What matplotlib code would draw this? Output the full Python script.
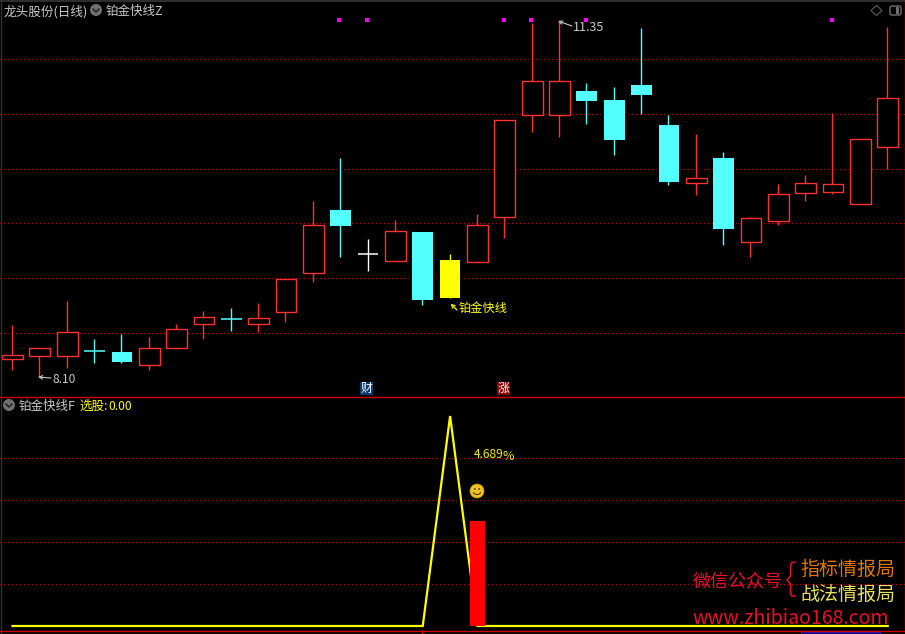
# -*- coding: utf-8 -*-
import matplotlib
matplotlib.use('Agg')
import matplotlib.pyplot as plt
from matplotlib.patches import Circle, Rectangle, Polygon, FancyBboxPatch, Arc

plt.rcParams['font.family'] = ['Noto Sans CJK SC', 'DejaVu Sans']

#################### DATOS ####################
# K线 (日线), values
opens = [8.26, 8.29, 8.29, 8.34, 8.33, 8.21, 8.36, 8.58, 8.63, 8.58, 8.69,
         9.05, 9.62, 9.22, 9.16, 9.42, 8.82, 9.15, 9.56, 10.49, 10.49, 10.71,
         10.63, 10.76, 10.40, 9.87, 10.10, 9.33, 9.52, 9.78, 9.79, 9.68, 10.20]
highs = [8.57, 8.36, 8.79, 8.45, 8.49, 8.46, 8.58, 8.70, 8.73, 8.77, 8.99,
         9.70, 10.10, 9.36, 9.53, 9.42, 9.22, 9.59, 10.44, 11.33, 11.35, 10.78,
         10.74, 11.28, 10.49, 10.32, 10.15, 9.56, 9.86, 9.94, 10.51, 10.27, 11.29]
lows = [8.16, 8.10, 8.18, 8.23, 8.23, 8.16, 8.36, 8.45, 8.52, 8.51, 8.60,
        8.97, 9.19, 9.07, 9.16, 8.76, 8.82, 9.15, 9.37, 10.33, 10.29, 10.41,
        10.12, 10.50, 9.85, 9.76, 9.30, 9.19, 9.49, 9.70, 9.77, 9.68, 10.00]
closes = [8.30, 8.36, 8.51, 8.34, 8.24, 8.36, 8.54, 8.65, 8.63, 8.64, 8.99,
          9.49, 9.48, 9.22, 9.43, 8.80, 9.17, 9.49, 10.44, 10.80, 10.80, 10.62,
          10.26, 10.67, 9.88, 9.91, 9.45, 9.55, 9.77, 9.87, 9.86, 10.27, 10.64]
candle_kind = ['r', 'r', 'r', 'c', 'c', 'r', 'r', 'r', 'c', 'r', 'r',
               'r', 'c', 'w', 'r', 'c', 'y', 'r', 'r', 'r', 'r', 'c',
               'c', 'c', 'c', 'r', 'c', 'r', 'r', 'r', 'r', 'r', 'r']
signal_idx = [12, 13, 18, 19, 21, 30]
signal_price = 11.36
price_grid = [8.5, 9.0, 9.5, 10.0, 10.5, 11.0]

# 铂金快线F
line_vals = [0] * 15 + [0, 5.0, 0] + [0] * 15
bar_idx = 17
bar_val = 2.5
lower_grid = [1, 2, 3, 4]

COLORS = {'r': '#ff3232', 'c': '#54ffff', 'w': '#ffffff', 'y': '#ffff00'}
GRID = '#a80000'
LINE = '#d00000'
GREY = '#c8c8c8'
YEL = '#ffff00'

#################### FIGURA ####################
W, H = 905, 634
SPLIT = 396.5
fig = plt.figure(figsize=(W / 100, H / 100), dpi=100, facecolor='black')
ax = fig.add_axes([0, 1 - SPLIT / H, 1, SPLIT / H])
ax2 = fig.add_axes([0, 0, 1, 1 - SPLIT / H])

STEP = 27.35
xlim = (-12.5 / STEP, (W - 12.5) / STEP)
for a in (ax, ax2):
    a.set_facecolor('black')
    a.set_xlim(xlim)
    a.set_xticks([])
    a.set_yticks([])
    for s in a.spines.values():
        s.set_visible(False)
ax.set_ylim(7.921, 11.538)
ax2.set_ylim(-8 / 42, (626 - SPLIT) / 42)

GRID_KW = dict(color=GRID, lw=0.72, linestyle=(0, (1, 3)), zorder=1, antialiased=False)
for g in price_grid:
    ax.axhline(g, **GRID_KW)
for g in lower_grid:
    ax2.axhline(g, **GRID_KW)

# velas
BODY = 0.76
for i in range(len(opens)):
    col = COLORS[candle_kind[i]]
    top = max(opens[i], closes[i])
    bot = min(opens[i], closes[i])
    ax.vlines(i - 0.02, lows[i], highs[i], color=col, lw=1.0, zorder=2)
    if top == bot:
        ax.hlines(top, i - BODY / 2, i + BODY / 2, color=col, lw=1.1, zorder=3)
    elif candle_kind[i] == 'r':
        ax.bar(i, top - bot, BODY, bot, facecolor='black', edgecolor=col, lw=1.0, zorder=3)
    else:
        ax.bar(i, top - bot, BODY, bot, facecolor=col, edgecolor=col, lw=0, zorder=3)
ax.scatter([i - 0.045 for i in signal_idx], [signal_price] * len(signal_idx),
           marker='s', s=6, color='#ff00ff', lw=0, zorder=4)

# panel inferior
ax2.plot(range(len(line_vals)), line_vals, color=YEL, lw=1.6, zorder=3,
         solid_joinstyle='miter')
ax2.bar(bar_idx, bar_val, 15 / STEP, 0, color='#ff0000', lw=0, zorder=4)

#################### TEXTOS Y ADORNOS ####################
ov = fig.add_axes([0, 0, 1, 1], facecolor='none')
ov.set_xlim(0, W)
ov.set_ylim(H, 0)
ov.axis('off')


def tx(x, y, s, px=12, color=GREY, **kw):
    # la fuente CJK queda alta con va=center, se baja un poco
    ov.text(x, y + px * 0.12, s, fontsize=px * 0.72, color=color, va='center', ha='left', **kw)


def face_icon(x, y):
    ov.add_patch(Circle((x, y), 6, facecolor='#707070', edgecolor='none'))
    ov.plot([x - 3, x, x + 3], [y - 1, y + 2, y - 1], color='#1a1a1a', lw=1)


# bordes
ov.plot([0.5, 0.5], [0, H], color='#303030', lw=1)
ov.plot([0, W], [0.5, 0.5], color='#303030', lw=1.4)
ov.plot([904.5, 904.5], [0, 631], color=LINE, lw=1)
ov.plot([0, W], [396.5, 396.5], color=LINE, lw=1)
ov.plot([0, W], [630.5, 630.5], color=LINE, lw=1)
ov.plot([421.5, 421.5], [630, 634], color=LINE, lw=1)
ov.add_patch(Rectangle((801, 631.5), 79, 3, facecolor='#000090', edgecolor='#2020c0', lw=0.6))

tx(4, 10, '龙头股份(日线)', 12.6)
face_icon(96, 10)
tx(106, 10, '铂金快线Z', 12.5)
face_icon(9, 405)
tx(19, 405, '铂金快线F', 12.5)
tx(79, 405, '选股:', 12.5, YEL)
tx(108, 405, '0.00', 12, YEL)

# iconos de la esquina
ov.add_patch(Polygon([(876.5, 5.5), (882, 10.5), (876.5, 15.5), (871, 10.5)], closed=True,
                     facecolor='none', edgecolor='#606060', lw=0.8))
ov.add_patch(FancyBboxPatch((890, 6), 11, 9, boxstyle='round,pad=0,rounding_size=2',
                            facecolor='none', edgecolor='#707070', lw=1))
ov.add_patch(Rectangle((896, 7), 3, 7, facecolor='#707070', edgecolor='none'))

# anotaciones
ov.annotate('', xy=(38, 377), xytext=(51, 378),
            arrowprops=dict(arrowstyle='->', color=GREY, lw=0.8, mutation_scale=6, shrinkA=0, shrinkB=0))
tx(52.5, 378, '8.10', 12)
ov.annotate('', xy=(558, 21), xytext=(572, 26),
            arrowprops=dict(arrowstyle='->', color=GREY, lw=0.8, mutation_scale=6, shrinkA=0, shrinkB=0))
tx(573, 26, '11.35', 12.6)
ov.annotate('', xy=(450.5, 303.5), xytext=(457, 310),
            arrowprops=dict(arrowstyle='->', color='#e0e000', lw=1, mutation_scale=6, shrinkA=0, shrinkB=0))
tx(458.5, 306.5, '铂金快线', 12.2, YEL)

ov.add_patch(Rectangle((360, 382), 13, 13, facecolor='#0a3a6e', edgecolor='none'))
ov.text(366.5, 388.5, '财', fontsize=8.6, color='white', ha='center', va='center')
ov.add_patch(Rectangle((497, 382), 13, 13, facecolor='#8a0000', edgecolor='none'))
ov.text(503.5, 388.5, '涨', fontsize=8.6, color='white', ha='center', va='center')

tx(474, 453.5, '4.689', 12, '#f0f000')
tx(502.5, 455.5, '%', 12.5, '#f0f000')

# carita
ov.add_patch(Circle((477, 491), 7, facecolor='#ecc420', edgecolor='#c89010', lw=0.5, zorder=6))
ov.add_patch(Circle((474.8, 489), 0.9, facecolor='#553300', edgecolor='none', zorder=7))
ov.add_patch(Circle((479.2, 489), 0.9, facecolor='#553300', edgecolor='none', zorder=7))
ov.add_patch(Arc((477, 491), 8, 7, theta1=20, theta2=160, color='#553300', lw=0.8, zorder=7))

# marca de agua
RED_W = '#e8102a'
tx(692.5, 579.5, '微信公众号', 18, RED_W)
tx(800.5, 567.5, '指标情报局', 19, '#e07800')
tx(800.5, 592.5, '战法情报局', 19, '#e8e060')
ov.plot([795, 791.5, 790.5, 790.5, 787, 790.5, 790.5, 791.5, 795],
        [562, 563, 566, 576, 580, 584, 593, 596, 596], color=RED_W, lw=1.1)
tx(692.5, 616, 'www.zhibiao168.com', 19.5, RED_W)

fig.savefig('out.png', dpi=100, facecolor='black')
